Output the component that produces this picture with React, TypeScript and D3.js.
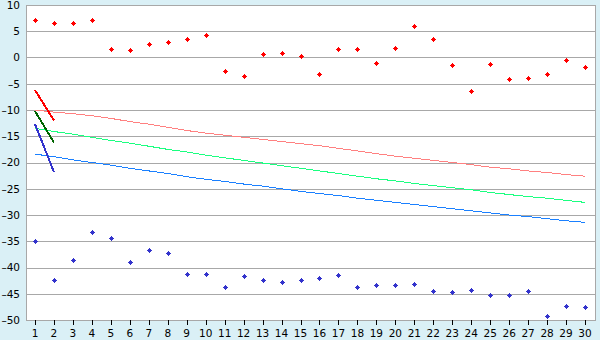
import * as d3 from 'd3';

// x categories 1..30
const categories = [1, 2, 3, 4, 5, 6, 7, 8, 9, 10, 11, 12, 13, 14, 15, 16, 17, 18, 19, 20, 21, 22, 23, 24, 25, 26, 27, 28, 29, 30];
const yTicks = [10, 5, 0, -5, -10, -15, -20, -25, -30, -35, -40, -45, -50];

// scatter series
const redPoints = [7.1, 6.6, 6.6, 7.1, 1.6, 1.4, 2.6, 3.0, 3.5, 4.3, -2.6, -3.5, 0.7, 0.9, 0.3, -3.1, 1.6, 1.6, -1.0, 1.8,
  6.0, 3.5, -1.4, -6.4, -1.2, -4.1, -3.9, -3.1, -0.5, -1.8];
const bluePoints = [-35.0, -42.4, -38.6, -33.2, -34.4, -39.0, -36.7, -37.3, -41.3, -41.3, -43.8, -41.7, -42.4, -42.8, -42.4, -42.0, -41.5, -43.8, -43.3, -43.3,
  -43.1, -44.5, -44.7, -44.3, -45.2, -45.2, -44.5, -49.3, -47.4, -47.5];

// trend lines across all categories
const pinkLine = [-10.0, -10.4, -10.7, -11.1, -11.6, -12.2, -12.7, -13.3, -13.9, -14.4, -14.8, -15.2, -15.6, -16.0, -16.4, -16.8, -17.3, -17.8, -18.3, -18.8,
  -19.2, -19.6, -20.0, -20.4, -20.9, -21.2, -21.6, -21.9, -22.3, -22.6];
const greenLine = [-13.5, -14.1, -14.6, -15.2, -15.8, -16.3, -16.9, -17.5, -18.0, -18.6, -19.1, -19.6, -20.1, -20.6, -21.1, -21.6, -22.1, -22.6, -23.1, -23.5,
  -24.0, -24.4, -24.8, -25.2, -25.7, -26.1, -26.5, -26.8, -27.2, -27.6];
const blueLine = [-18.4, -18.9, -19.5, -20.0, -20.5, -21.1, -21.6, -22.1, -22.7, -23.2, -23.6, -24.1, -24.5, -25.0, -25.5, -25.9, -26.3, -26.8, -27.2, -27.6,
  -28.0, -28.4, -28.8, -29.2, -29.6, -30.0, -30.3, -30.7, -31.1, -31.4];

// short segments between categories 1 and 2
const redShort = [-6.2, -12.0];
const darkGreenShort = [-10.2, -16.2];
const violetShort = [-12.7, -21.8];

const W = 600;
const H = 340;
const plot = { left: 26, right: 595, top: 5, bottom: 320 };
const font = 'Verdana, "DejaVu Sans", sans-serif';

// pixel diamond marker (rows 1,3,5,3,1 px wide)
const marker = 'M-0.5,-2.5h1v1h1v1h1v1h-1v1h-1v1h-1v-1h-1v-1h-1v-1h1v-1h1z';

// en dash for negatives, like the original
const fmt = (v: number) => (v < 0 ? '\u2013' + Math.abs(v) : String(v));

export default function App() {
  const x = d3.scaleBand<number>()
    .domain(categories)
    .range([plot.left - 0.5, plot.right - 0.5]);
  const cx = (c: number) => (x(c) ?? 0) + x.bandwidth() / 2;

  const y = d3.scaleLinear().domain([-50, 10]).range([plot.bottom, plot.top]);

  const line = d3.line<number>()
    .x((_, i) => cx(categories[i]))
    .y((d) => y(d));

  const trends = [
    { data: pinkLine, color: '#ff8080', w: 1 },
    { data: greenLine, color: '#1aff80', w: 1 },
    { data: blueLine, color: '#1a80ff', w: 1 },
    { data: redShort, color: '#ff0000', w: 2 },
    { data: darkGreenShort, color: '#006400', w: 2 },
    { data: violetShort, color: '#3333cc', w: 2 },
  ];

  const at = (i: number, v: number) =>
    `translate(${Math.round(cx(categories[i])) + 0.5},${Math.round(y(v)) + 0.5})`;

  return (
    <svg width={W} height={H} style={{ position: 'absolute', left: 0, top: 0 }} fontFamily={font}>
      <rect width={W} height={H} fill="#daf0f6" />
      <rect x={plot.left} y={plot.top} width={plot.right - plot.left} height={plot.bottom - plot.top} fill="#fff" />

      {yTicks.map((t) => (
        <g key={t}>
          <line x1={plot.left} x2={plot.right} y1={Math.round(y(t)) + 0.5} y2={Math.round(y(t)) + 0.5} stroke="#a8a8a8" />
          <text x={20} y={y(t)} dy="0.36em" textAnchor="end" fontSize={10.5} fill="#000">{fmt(t)}</text>
        </g>
      ))}
      <line x1={plot.left + 0.5} x2={plot.left + 0.5} y1={plot.top} y2={plot.bottom} stroke="#a8a8a8" />
      <line x1={plot.right + 0.5} x2={plot.right + 0.5} y1={plot.top} y2={plot.bottom + 1} stroke="#a8a8a8" />

      {categories.map((c) => (
        <g key={c}>
          <line x1={Math.round(cx(c)) + 0.5} x2={Math.round(cx(c)) + 0.5} y1={plot.bottom} y2={plot.bottom + 5} stroke="#000" />
          <text x={cx(c)} y={337} textAnchor="middle" fontSize={10.5} fill="#000">{c}</text>
        </g>
      ))}

      {trends.map((s, k) => (
        <path key={k} d={line(s.data) ?? ''} fill="none" stroke={s.color} strokeWidth={s.w} shapeRendering="crispEdges" />
      ))}

      {redPoints.map((v, i) => (
        <path key={'r' + i} d={marker} transform={at(i, v)} fill="#ff0000" shapeRendering="crispEdges" />
      ))}
      {bluePoints.map((v, i) => (
        <path key={'b' + i} d={marker} transform={at(i, v)} fill="#3333cc" shapeRendering="crispEdges" />
      ))}
    </svg>
  );
}
